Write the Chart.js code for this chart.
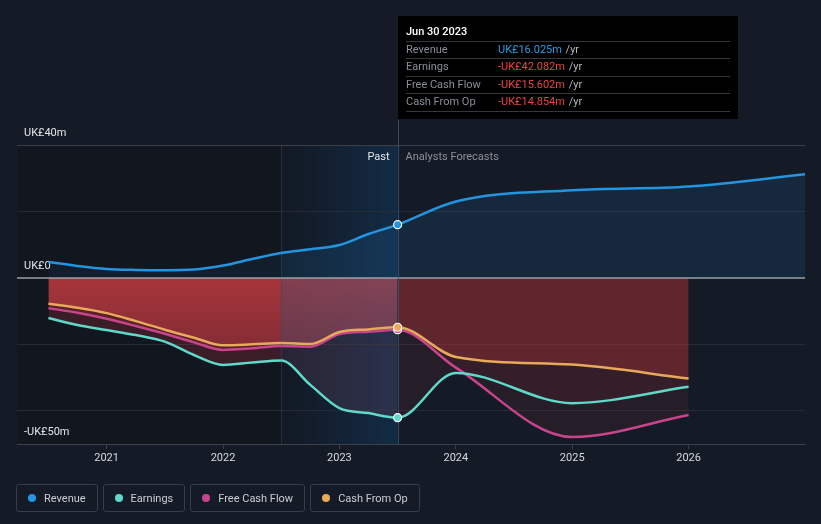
<!DOCTYPE html>
<html><head><meta charset="utf-8">
<script src="https://cdn.jsdelivr.net/npm/chart.js@4"></script>
<style>
html,body{margin:0;padding:0;background:#151b26;width:821px;height:524px;overflow:hidden;font-family:Roboto,"Noto Sans",sans-serif;}
#wrap{position:relative;width:821px;height:524px;}
canvas{position:absolute;left:0;top:0;}
#legend{position:absolute;left:16px;top:484px;display:flex;gap:5px;}
.item{box-sizing:border-box;height:28px;border:1px solid #383d48;border-radius:3px;display:flex;align-items:center;padding:0 11px;color:#c9ccd1;font-size:11px;}
.dot{width:8px;height:8px;border-radius:50%;margin-right:8px;}
</style></head>
<body><div id="wrap"><canvas id="c" width="821" height="524"></canvas><div id="legend"></div></div>
<script>
// ---- data ----
const pastDates = [2020.5,2020.75,2021,2021.25,2021.5,2021.75,2022,2022.25,2022.5,2022.75,2023,2023.25,2023.5];
const forecastDates = [2024,2025,2026,2027];
const revenuePast = [4.8,3.6,2.7,2.4,2.3,2.5,3.7,5.7,7.5,8.6,9.9,13.2,16.025];
const revenueForecast = [23.0,26.4,27.5,31.2];
const earningsPast = [-12.1,-14.2,-15.7,-17.2,-19.2,-23.2,-26.2,-25.5,-24.9,-32.2,-39.2,-40.7,-42.082];
const earningsForecast = [-28.6,-37.7,-32.8];
const fcfPast = [-9.1,-10.5,-12.3,-14.5,-16.8,-19.4,-21.7,-21.2,-20.5,-20.7,-16.9,-16.2,-15.602];
const fcfForecast = [-27.0,-47.9,-41.3];
const cfoPast = [-7.8,-9.0,-10.6,-13.0,-15.6,-18.0,-20.3,-20.0,-19.6,-19.9,-16.3,-15.5,-14.854];
const cfoForecast = [-23.8,-26.1,-30.3];
const xTickYears = [2021,2022,2023,2024,2025,2026];
const yGridValues = [40,20,0,-20,-40,-50];
const yLabelValues = [40,0,-50];
const yLabelTexts = ['UK£40m','UK£0','-UK£50m'];
const seriesNames = ['Revenue','Earnings','Free Cash Flow','Cash From Op'];
const seriesColors = ['#2394df','#5fd9c9','#c8448c','#e8a95a'];
const tooltipDate = 'Jun 30 2023';
const tooltipValues = ['UK£16.025m','-UK£42.082m','-UK£15.602m','-UK£14.854m'];
const NOW = 2023.5, BAND_START = 2022.5;

function pts(pd, pv, fd, fv){
  return pd.map((d,i)=>({x:d,y:pv[i]})).concat(fv.map((v,i)=>({x:fd[i],y:v})));
}
function zone(ctx){ const x = ctx.p0.parsed.x; return x < BAND_START ? 'past' : (x < NOW ? 'band' : 'fore'); }
const gcache = {};
function vgrad(chart, key, stops){
  const y = chart.scales.y; const k = key + y.top + '_' + y.bottom;
  if (gcache[k]) return gcache[k];
  const g = chart.ctx.createLinearGradient(0, y.getPixelForValue(0), 0, y.getPixelForValue(-25));
  g.addColorStop(0, stops[0]); g.addColorStop(1, stops[1]);
  gcache[k] = g; return g;
}
const lowFill = {past:'rgba(190,50,60,0.24)', band:'rgba(110,70,100,0.25)', fore:'rgba(190,50,60,0.1)'};
const revFill = {past:'rgba(35,148,223,0.06)', band:'rgba(35,148,223,0.12)', fore:'rgba(35,148,223,0.12)'};

function pointR(ctx){ return ctx.raw && ctx.raw.x === NOW ? 4 : 0; }

function mk(idx, data, fillFn){
  return {
    label: seriesNames[idx], data, borderColor: seriesColors[idx], backgroundColor: seriesColors[idx],
    borderWidth: 2.5, fill: 'origin', cubicInterpolationMode: 'monotone',
    pointRadius: pointR, pointHoverRadius: pointR, pointBackgroundColor: seriesColors[idx],
    pointBorderColor: '#ffffff', pointBorderWidth: 1.2,
    segment: { backgroundColor: fillFn }
  };
}

const datasets = [
  mk(0, pts(pastDates, revenuePast, forecastDates, revenueForecast), c => revFill[zone(c)]),
  mk(3, pts(pastDates, cfoPast, forecastDates, cfoForecast), c => {
    const z = zone(c);
    if (z === 'past') return vgrad(c.chart, 'p', ['rgba(215,65,70,0.62)','rgba(215,65,70,0.3)']);
    if (z === 'band') return vgrad(c.chart, 'b', ['rgba(175,75,90,0.62)','rgba(175,75,90,0.35)']);
    return 'rgba(200,55,60,0.3)';
  }),
  mk(1, pts(pastDates, earningsPast, forecastDates, earningsForecast), c => lowFill[zone(c)]),
  mk(2, pts(pastDates, fcfPast, forecastDates, fcfForecast), c => lowFill[zone(c)]),
];

const bgPlugin = {
  id: 'bg',
  beforeDraw(chart){
    const {ctx, chartArea: a, scales: {x}} = chart;
    const xb = x.getPixelForValue(BAND_START), xn = x.getPixelForValue(NOW);
    ctx.save();
    ctx.fillStyle = 'rgba(0,0,0,0.16)';
    ctx.fillRect(a.left, a.top, xb - a.left, a.bottom - a.top);
    ctx.fillStyle = 'rgba(0,0,0,0.1)';
    ctx.fillRect(xb, a.top, xn - xb, a.bottom - a.top);
    const g = ctx.createLinearGradient(xb, 0, xn, 0);
    g.addColorStop(0, 'rgba(20,80,140,0.02)');
    g.addColorStop(1, 'rgba(20,85,145,0.32)');
    ctx.fillStyle = g;
    ctx.fillRect(xb, a.top, xn - xb, a.bottom - a.top);
    ctx.restore();
  },
  beforeDatasetsDraw(chart){
    const {ctx, chartArea: a, scales: {x, y}} = chart;
    const xb = x.getPixelForValue(BAND_START), xn = x.getPixelForValue(NOW);
    const y0 = y.getPixelForValue(0);
    ctx.save();
    ctx.strokeStyle = 'rgba(70,100,130,0.35)'; ctx.lineWidth = 1;
    ctx.beginPath(); ctx.moveTo(Math.round(xb)+0.5, a.top); ctx.lineTo(Math.round(xb)+0.5, a.bottom); ctx.stroke();
    ctx.strokeStyle = '#9ba0a7'; ctx.lineWidth = 1.5;
    ctx.beginPath(); ctx.moveTo(a.left, y0); ctx.lineTo(a.right, y0); ctx.stroke();
    ctx.strokeStyle = 'rgba(60,85,110,0.8)'; ctx.lineWidth = 1;
    ctx.beginPath(); ctx.moveTo(Math.round(xn)+0.5, 120); ctx.lineTo(Math.round(xn)+0.5, a.bottom); ctx.stroke();
    ctx.font = '11px Roboto, sans-serif'; ctx.textBaseline = 'middle';
    ctx.fillStyle = '#e6e8eb'; ctx.textAlign = 'right'; ctx.fillText('Past', xn - 8, a.top + 12);
    ctx.fillStyle = '#8b9099'; ctx.textAlign = 'left'; ctx.fillText('Analysts Forecasts', xn + 8, a.top + 12);
    ctx.restore();
  },
  afterDraw(chart){
    const {ctx, scales: {x}} = chart;
    const xn = Math.round(x.getPixelForValue(NOW));
    const L = xn, T = 16, W = 340, H = 103;
    ctx.save();
    ctx.fillStyle = '#000000'; ctx.fillRect(L, T, W, H);
    ctx.font = '500 11px Roboto, sans-serif'; ctx.textBaseline = 'middle'; ctx.textAlign = 'left';
    ctx.fillStyle = '#ffffff'; ctx.fillText(tooltipDate, L + 8, 32);
    const rows = [50.5, 67.5, 85, 102];
    const seps = [41, 58, 75.5, 93, 110.5];
    ctx.strokeStyle = '#34373d'; ctx.lineWidth = 1;
    seps.forEach(s => { ctx.beginPath(); ctx.moveTo(L + 8, Math.round(s)+0.5); ctx.lineTo(L + W - 8, Math.round(s)+0.5); ctx.stroke(); });
    ctx.font = '11px Roboto, sans-serif';
    seriesNames.forEach((n, i) => {
      ctx.fillStyle = '#8a8f97'; ctx.fillText(n, L + 8, rows[i]);
      const v = tooltipValues[i];
      ctx.fillStyle = v.startsWith('-') ? '#ec4343' : '#2a9be5';
      ctx.fillText(v, L + 100, rows[i]);
      const w = ctx.measureText(v).width;
      ctx.fillStyle = '#b3b7bd'; ctx.fillText(' /yr', L + 100 + w + 1, rows[i]);
    });
    ctx.restore();
  }
};

new Chart(document.getElementById('c'), {
  type: 'line',
  data: { datasets },
  options: {
    responsive: false, animation: false, events: [],
    layout: { padding: { top: 145, left: 17, right: 16, bottom: 40 } },
    plugins: { legend: { display: false }, tooltip: { enabled: false }, filler: { drawTime: 'beforeDatasetsDraw' } },
    scales: {
      x: {
        type: 'linear', min: 2020.23, max: 2027.0,
        afterBuildTicks: s => { s.ticks = xTickYears.map(v => ({value: v})); },
        afterFit: s => { s.height = 40; },
        grid: { drawOnChartArea: false, drawTicks: true, tickLength: 5, color: '#3b404a' },
        border: { display: true, color: '#3b404a' },
        ticks: { color: '#d6d9dd', font: { size: 11, family: 'Roboto' }, padding: 3, callback: v => String(v), maxRotation: 0 }
      },
      y: {
        min: -50, max: 40,
        afterBuildTicks: s => { s.ticks = yGridValues.map(v => ({value: v})); },
        afterFit: s => { s.width = 0; },
        grid: { drawTicks: false, color: c => {
          const v = c.tick && c.tick.value;
          if (v === 0 || v === -50) return 'rgba(0,0,0,0)';
          if (v === 40) return '#3a3f49';
          return '#262c36';
        } },
        border: { display: false },
        ticks: { mirror: true, padding: 7, labelOffset: -12, color: '#e3e5e8', font: { size: 11, family: 'Roboto' },
          callback: v => { const i = yLabelValues.indexOf(v); return i >= 0 ? yLabelTexts[i] : ''; } }
      }
    }
  },
  plugins: [bgPlugin]
});

const leg = document.getElementById('legend');
seriesNames.forEach((n, i) => {
  const d = document.createElement('div'); d.className = 'item';
  d.innerHTML = '<span class="dot" style="background:' + seriesColors[i] + '"></span>' + n;
  leg.appendChild(d);
});
</script></body></html>
